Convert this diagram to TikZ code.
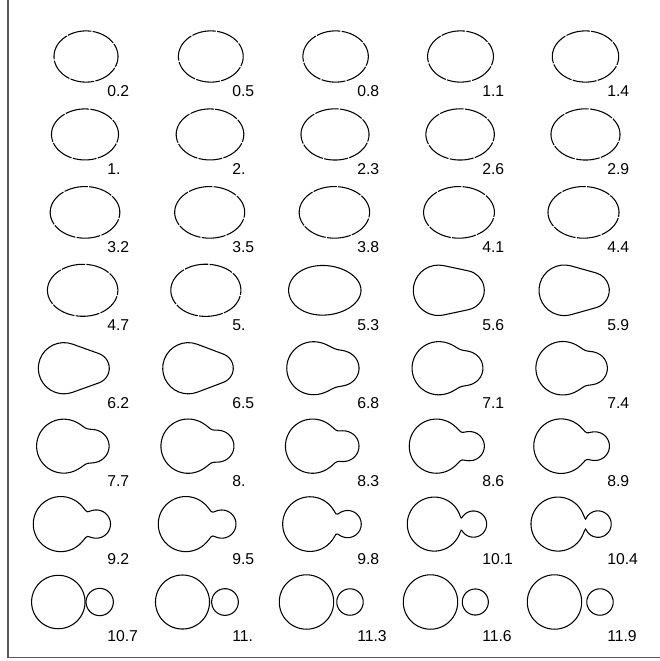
\documentclass[tikz,border=0pt]{standalone}
\usepackage{fontspec}
\setmainfont{Liberation Sans}
\tikzset{
  drop/.style={line width=.8pt},
  dropgaps/.style={drop,dash pattern=on 18pt off 1pt},
  tlabel/.style={anchor=west,inner sep=0pt,font=\fontsize{11.8}{13}\selectfont},
  rim/.style={black!65,line width=1pt}
}
% Newton walk along the axis to an end point of the outline
\newcommand\findend[3]{%
  \pgfmathparse{#1}\xdef#3{\pgfmathresult}%
  \foreach \k in {1,...,8}{%
    \pgfmathparse{#3+(#2)*max(-1,min(1,-(ea(#3)*eb(#3)-\ep)/max(0.0001,(#2)*(2*(#3-(\cA))/(\aA*\aA)*eb(#3)+2*(#3-(\cB))/(\rB*\rB)*ea(#3)))))}%
    \xdef#3{\pgfmathresult}}}
% closed outline between two end points
\newcommand\lobe[3]{%
  \pgfmathsetmacro\mm{(#1+#2)/2}\pgfmathsetmacro\hh{(#2-#1)/2}%
  \draw[#3] plot[smooth cycle,domain=0:357,samples=120,variable=\t]
    ({\mm-\hh*cos(\t)},{yy(\mm-\hh*cos(\t))*ifthenelse(sin(\t)<0,-1,1)});}
\begin{document}
\begin{tikzpicture}[x=.75pt,y=-.75pt,declare function={
    ea(\x)=(\x-(\cA))*(\x-(\cA))/(\aA*\aA)-1;
    eb(\x)=(\x-(\cB))*(\x-(\cB))/(\rB*\rB)-1;
    sr(\u,\v)=(sqrt((\u*\qB-\v*\pA)*(\u*\qB-\v*\pA)+4*\pA*\qB*\ep)-\u*\qB-\v*\pA)/(2*\pA*\qB);
    yy(\x)=sqrt(max(0,sr(ea(\x),eb(\x))));}]
\useasboundingbox (0,0) rectangle (660,661);
\draw[rim] (8,0) -- (8,657.5) -- (660,657.5);
% label / big lobe c,a,b / small lobe c,r / smoothing / kind
\foreach \lab/\cA/\aA/\bA/\cB/\rB/\ep/\kind [count=\n from 0] in {
  0.2/-2.10/3.20/2.56/-2.1/1/0.0005/0, 0.5/-2.12/3.24/2.56/-2.1/1/0.0005/0,
  0.8/-2.14/3.27/2.56/-2.1/1/0.0005/0, 1.1/-2.15/3.29/2.56/-2.1/1/0.0005/0,
  1.4/-2.15/3.32/2.56/-2.1/1/0.0005/0,
  1./-2.20/3.35/2.55/-2.2/1/0.0005/0, 2./-2.20/3.38/2.55/-2.2/1/0.0005/0,
  2.3/-2.20/3.40/2.56/-2.2/1/0.0005/0, 2.6/-2.19/3.42/2.56/-2.2/1/0.0005/0,
  2.9/-2.15/3.45/2.56/-2.2/1/0.0005/0,
  3.2/-2.20/3.48/2.58/-2.2/1/0.0005/0, 3.5/-2.23/3.50/2.58/-2.2/1/0.0005/0,
  3.8/-2.26/3.52/2.58/-2.2/1/0.0005/0, 4.1/-2.30/3.54/2.58/-2.2/1/0.0005/0,
  4.4/-2.35/3.55/2.58/-2.2/1/0.0005/0,
  4.7/-2.45/3.50/2.58/-1.5/1.8/0.02/0, 5./-2.75/3.35/2.56/-1.25/1.85/0.06/0,
  5.3/-3.22/3.62/2.48/0/0/0.06/4, 5.6/-4.35/2.52/2.52/-1.75/1.98/0/3,
  5.9/-4.27/2.53/2.53/-1.57/1.8/0/3,
  6.2/-4.31/2.56/2.56/-1.32/1.55/0/3, 6.5/-4.37/2.56/2.56/-1.37/1.5/0/3,
  6.8/-4.4/2.6/2.6/-1.45/1.58/0.2/1, 7.1/-4.35/2.63/2.63/-1.55/1.6/0.1/1,
  7.4/-4.45/2.65/2.65/-1.55/1.55/0.09/1,
  7.7/-4.35/2.68/2.68/-1.4/1.58/0.07/1, 8./-4.4/2.7/2.7/-1.35/1.52/0.06/1,
  8.3/-4.45/2.7/2.7/-1.3/1.48/0.05/1, 8.6/-4.57/2.7/2.7/-1.2/1.42/0.045/1,
  8.9/-4.6/2.72/2.72/-1.17/1.4/0.04/1,
  9.2/-4.62/2.75/2.75/-1.05/1.39/0.03/1, 9.5/-4.62/2.75/2.75/-1.0/1.39/0.025/1,
  9.8/-4.7/2.73/2.73/-0.93/1.35/0.015/1, 10.1/-4.77/2.7/2.7/-0.85/1.31/0.004/1,
  10.4/-4.9/2.7/2.7/-0.9/1.32/0.003/1,
  10.7/-4.87/2.67/2.67/-0.73/1.36/0.0005/2, 11./-4.95/2.7/2.7/-0.7/1.33/0.0005/2,
  11.3/-5.05/2.72/2.72/-0.7/1.32/0.0005/2, 11.6/-5.15/2.72/2.72/-0.67/1.3/0.0005/2,
  11.9/-5.25/2.72/2.72/-0.7/1.32/0.0005/2}{
  \pgfmathtruncatemacro\col{mod(\n,5)}
  \pgfmathtruncatemacro\row{\n/5}
  \node[tlabel] (v\n) at ({107+125*\col},{91+77.93*\row}) {\lab};
  \begin{scope}[shift={({107+125*\col},{56.5+77.93*\row})},x=7.5pt,y=7.5pt]
    \ifcase\kind\or\or\or
      % 3: two circles and their outer tangents
      \pgfmathsetmacro\al{90-asin((\aA-\rB)/(\cB-\cA))}
      \draw[drop] ({\cA+\aA*cos(\al)},{\aA*sin(\al)})
        arc[start angle=\al,end angle={360-\al},radius=\aA]
        -- ({\cB+\rB*cos(\al)},{-\rB*sin(\al)})
        arc[start angle={-\al},end angle=\al,radius=\rB] -- cycle;
    \or
      % 4: egg
      \draw[drop] plot[smooth cycle,domain=0:355,samples=72,variable=\t]
        ({\cA+\aA*cos(\t)},{\bA*sin(\t)*(1-\ep*cos(\t))});
    \fi
    \ifnum\kind<3
      \pgfmathsetmacro\pA{1/(\bA*\bA)}
      \pgfmathsetmacro\qB{1/(\rB*\rB)}
      \ifnum\kind=2
        \findend{\cA-\aA}{-1}{\xa}\findend{\cA+\aA}{1}{\xb}
        \findend{\cB-\rB}{-1}{\xc}\findend{\cB+\rB}{1}{\xd}
        \lobe{\xa}{\xb}{drop}\lobe{\xc}{\xd}{drop}
      \else
        \findend{\cA-\aA}{-1}{\xa}\findend{max(\cA+\aA,\cB+\rB)}{1}{\xb}
        \ifnum\kind=0 \lobe{\xa}{\xb}{dropgaps}\else\lobe{\xa}{\xb}{drop}\fi
      \fi
    \fi
  \end{scope}
}
\end{tikzpicture}
\end{document}
